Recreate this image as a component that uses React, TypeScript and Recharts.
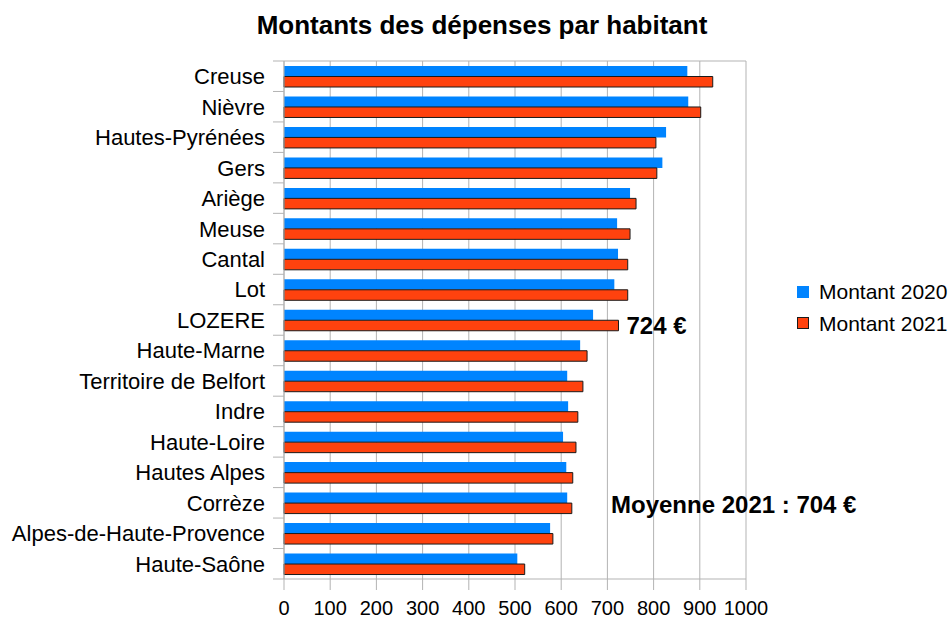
import React from 'react';
import { BarChart, Bar, XAxis, YAxis, CartesianGrid, LabelList } from 'recharts';

const categories = [
  'Creuse', 'Nièvre', 'Hautes-Pyrénées', 'Gers', 'Ariège', 'Meuse', 'Cantal', 'Lot', 'LOZERE',
  'Haute-Marne', 'Territoire de Belfort', 'Indre', 'Haute-Loire', 'Hautes Alpes', 'Corrèze',
  'Alpes-de-Haute-Provence', 'Haute-Saône',
];
const montant2020 = [873, 875, 827, 819, 749, 721, 723, 715, 669, 641, 613, 615, 604, 611, 613, 576, 505];
const montant2021 = [928, 902, 805, 807, 762, 749, 744, 744, 724, 656, 647, 636, 632, 625, 623, 582, 521];
const xTicks = [0, 100, 200, 300, 400, 500, 600, 700, 800, 900, 1000];
const series = [
  { key: 'm2020', name: 'Montant 2020', color: '#0084ff', stroke: 'none' },
  { key: 'm2021', name: 'Montant 2021', color: '#ff420e', stroke: '#1a1a1a' },
];
const highlighted = 'LOZERE';
const title = 'Montants des dépenses par habitant';
const note = 'Moyenne 2021 : 704 €';

const data = categories.map((c, i) => ({ name: c, m2020: montant2020[i], m2021: montant2021[i] }));

const W = 951;
const H = 619;
const PLOT_TOP = 61;
const PLOT_LEFT = 284;
const PLOT_RIGHT = 746;
const X_AXIS_H = 40;
const PLOT_H = H - PLOT_TOP - X_AXIS_H;
const BAND = PLOT_H / categories.length;
const FONT = '"Liberation Sans", Arial, sans-serif';
const GRID = '#b3b3b3';

const CatTick = (props: any) => {
  const { x, y, payload, index } = props;
  const half = BAND / 2;
  return (
    <g>
      <text x={x} y={y} dy="0.36em" textAnchor="end" fontSize={22} fontFamily={FONT} fill="#000">
        {payload.value}
      </text>
      <line x1={PLOT_LEFT - 11} x2={PLOT_LEFT} y1={y - half} y2={y - half} stroke={GRID} />
      {index === categories.length - 1 && (
        <line x1={PLOT_LEFT - 11} x2={PLOT_LEFT} y1={y + half} y2={y + half} stroke={GRID} />
      )}
    </g>
  );
};

const renderHighlight = (props: any) => {
  const { x, y, width, height, value, index } = props;
  if (categories[index] !== highlighted) return null;
  return (
    <text x={x + width + 8} y={y + height / 2} dy="0.36em" fontSize={24} fontWeight="bold" fontFamily={FONT} fill="#000">
      {`${value} €`}
    </text>
  );
};

export default function App() {
  return (
    <div style={{ position: 'absolute', left: 0, top: 0, width: W, height: H, background: '#fff', fontFamily: FONT }}>
      <div style={{ position: 'absolute', left: 0, width: 964, top: 12, textAlign: 'center', fontSize: 26, fontWeight: 'bold', lineHeight: '26px', color: '#000' }}>
        {title}
      </div>
      <BarChart
        width={W}
        height={H}
        data={data}
        layout="vertical"
        margin={{ top: PLOT_TOP, right: W - PLOT_RIGHT, bottom: 0, left: 0 }}
        barGap={0}
        barSize={10.5}
      >
        <CartesianGrid stroke={GRID} horizontalPoints={[PLOT_TOP]} />
        <XAxis
          type="number"
          domain={[0, 1000]}
          ticks={xTicks}
          height={X_AXIS_H}
          tickSize={11}
          tickMargin={10.5}
          axisLine={{ stroke: GRID }}
          tickLine={{ stroke: GRID }}
          tick={{ fontSize: 20, fill: '#000', fontFamily: FONT }}
          interval={0}
        />
        <YAxis
          type="category"
          dataKey="name"
          width={PLOT_LEFT}
          tickSize={11}
          tickMargin={8}
          axisLine={{ stroke: GRID }}
          tickLine={false}
          tick={<CatTick />}
          interval={0}
        />
        <Bar dataKey="m2020" name={series[0].name} fill={series[0].color} isAnimationActive={false} />
        <Bar dataKey="m2021" name={series[1].name} fill={series[1].color} stroke={series[1].stroke} strokeWidth={1} isAnimationActive={false}>
          <LabelList dataKey="m2021" content={renderHighlight} />
        </Bar>
      </BarChart>
      <div style={{ position: 'absolute', left: 797, top: 276 }}>
        {series.map((s) => (
          <div key={s.key} style={{ display: 'flex', alignItems: 'center', height: 31.6 }}>
            <div style={{ width: s.stroke === 'none' ? 12 : 10, height: s.stroke === 'none' ? 12 : 10, background: s.color, border: s.stroke === 'none' ? 'none' : `1px solid ${s.stroke}`, marginRight: 10 }} />
            <span style={{ fontSize: 21, lineHeight: '21px', color: '#000' }}>{s.name}</span>
          </div>
        ))}
      </div>
      <div style={{ position: 'absolute', left: 611, top: 493, fontSize: 24, fontWeight: 'bold', lineHeight: '24px', color: '#000' }}>
        {note}
      </div>
    </div>
  );
}
